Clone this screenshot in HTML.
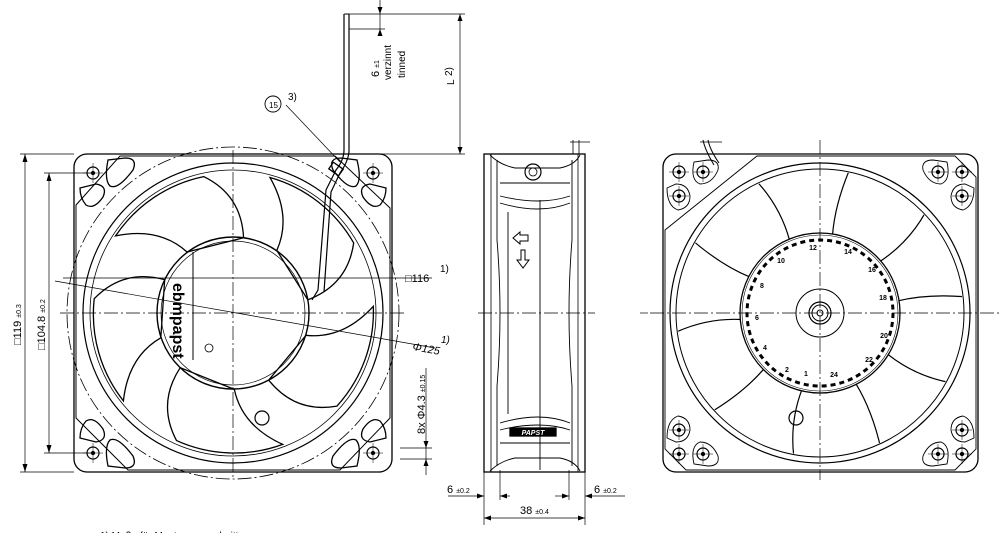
<!DOCTYPE html>
<html><head><meta charset="utf-8"><style>
html,body{margin:0;padding:0;background:#fff;}
svg{display:block;font-family:"Liberation Sans Narrow","Liberation Sans",sans-serif;}
</style></head><body>
<svg width="1000" height="533" viewBox="0 0 1000 533" xmlns="http://www.w3.org/2000/svg">
<defs>
<path id="bladeL" d="M76,0 Q118,-8 131,-48 A140,140 0 0 0 60,-127 Q75,-85 54,-54 Z"/>
<path id="bladeR" d="M78,-8 Q110,-14 150,-8 L150,-70 L120,-112 Q100,-70 62,-48 Z"/>
<clipPath id="ringR"><circle cx="820" cy="313" r="143"/></clipPath>
<g id="cornerL">
 <circle r="6" fill="none" stroke="#000" stroke-width="1.2"/><circle r="1.5" fill="#000"/>
 <line x1="-10" y1="0" x2="10" y2="0" stroke="#000" stroke-width="0.5"/><line x1="0" y1="-10" x2="0" y2="10" stroke="#000" stroke-width="0.5"/>
</g>
</defs>
<g fill="none" stroke="#000" stroke-width="1.3">
<!-- ===== LEFT VIEW ===== -->
<rect x="74" y="154" width="318" height="318" rx="13"/>
<path d="M120,156 L335,156 L390,208 L390,418 L340,470 L128,470 L76,418 L76,205 Z" stroke-width="1"/>
<circle cx="233" cy="313" r="150" stroke-width="1.2"/>
<circle cx="233" cy="313" r="143" stroke-width="0.8"/>
<circle cx="233" cy="313" r="166" stroke-width="0.8" stroke-dasharray="14 3 2 3"/>
<circle cx="233" cy="313" r="76" stroke-width="1.4"/>
<circle cx="233" cy="313" r="72" stroke-width="0.7"/>
<g transform="translate(233,313)" stroke-width="1.3">
 <use href="#bladeL" transform="rotate(-10)"/>
 <use href="#bladeL" transform="rotate(62)"/>
 <use href="#bladeL" transform="rotate(134)"/>
 <use href="#bladeL" transform="rotate(206)"/>
 <use href="#bladeL" transform="rotate(278)"/>
</g>
<line x1="193" y1="252" x2="193" y2="360" stroke-width="1"/>
<circle cx="209" cy="348" r="4" stroke-width="0.8"/>
<circle cx="262" cy="418" r="7" stroke-width="1.2"/>
<use href="#cornerL" x="93" y="173"/><use href="#cornerL" x="373" y="173"/>
<use href="#cornerL" x="93" y="453"/><use href="#cornerL" x="373" y="453"/>
<path d="M108,160 Q104,180 110,186 Q118,190 133,170 Q138,158 125,158 Z"/>
<path d="M80,188 Q80,198 86,205 Q94,210 103,197 Q108,186 96,184 Z"/>
<path d="M357,160 Q362,180 356,186 Q348,190 333,170 Q328,158 341,158 Z"/>
<path d="M386,188 Q386,198 380,205 Q372,210 363,197 Q358,186 370,184 Z"/>
<path d="M108,466 Q104,446 110,440 Q118,436 133,456 Q138,468 125,468 Z"/>
<path d="M80,438 Q80,428 86,421 Q94,416 103,429 Q108,440 96,442 Z"/>
<path d="M357,466 Q362,446 356,440 Q348,436 333,456 Q328,468 341,468 Z"/>
<path d="M386,438 Q386,428 380,421 Q372,416 363,429 Q358,440 370,442 Z"/>
<path d="M344,140 L344,150 Q344,160 336,170 L326,190 L318,290 L312,300" stroke-width="1.2"/>
<path d="M349,140 L349,152 Q348,162 340,173 L331,192 L324,292" stroke-width="1.2"/>
<rect x="330" y="165" width="12" height="8" transform="rotate(35 336 169)"/>
<g stroke-width="0.7" stroke-dasharray="14 3 2 3">
<line x1="233" y1="150" x2="233" y2="478"/><line x1="60" y1="313" x2="405" y2="313"/>
</g>
<g stroke-width="0.7">
<line x1="20" y1="154" x2="74" y2="154"/><line x1="20" y1="472" x2="74" y2="472"/>
<line x1="25" y1="154" x2="25" y2="472"/>
<line x1="44" y1="173" x2="93" y2="173"/><line x1="44" y1="453" x2="93" y2="453"/>
<line x1="49" y1="173" x2="49" y2="453"/>
<line x1="63" y1="278" x2="432" y2="278"/>
<line x1="55" y1="281" x2="435" y2="348"/>
<line x1="400" y1="448" x2="432" y2="448"/><line x1="400" y1="459" x2="432" y2="459"/>
<line x1="426" y1="368" x2="426" y2="475"/>
<line x1="286" y1="105" x2="340" y2="162"/>
</g>
<g fill="#000" stroke="none">
<path d="M25,154 l-2.5,8 h5z"/><path d="M25,472 l-2.5,-8 h5z"/>
<path d="M49,173 l-2.5,8 h5z"/><path d="M49,453 l-2.5,-8 h5z"/>
<path d="M426,448 l-2.5,-7 h5z"/><path d="M426,459 l-2.5,7 h5z"/>
</g>
<!-- ===== TOP WIRE ===== -->
<path d="M344,14 L344,140 M349,14 L349,140" stroke-width="1.2"/>
<path d="M345,14 L349,14" stroke-width="1"/>
<g stroke-width="0.7">
<line x1="344" y1="14" x2="465" y2="14"/><line x1="349" y1="29" x2="385" y2="29"/>
<line x1="380" y1="0" x2="380" y2="35"/>
<line x1="460" y1="14" x2="460" y2="154"/>
<line x1="380" y1="154" x2="465" y2="154"/>
</g>
<g fill="#000" stroke="none">
<path d="M380,14 l-2.5,-7 h5z"/><path d="M380,29 l-2.5,7 h5z"/>
<path d="M460,14 l-2.5,7 h5z"/><path d="M460,154 l-2.5,-7 h5z"/>
</g>
<circle cx="273" cy="104" r="8" stroke-width="0.9"/>
<!-- ===== SIDE VIEW ===== -->
<rect x="484" y="154" width="101" height="318" stroke-width="1.3"/>
<line x1="491" y1="154" x2="491" y2="472" stroke-width="0.8"/>
<line x1="578" y1="154" x2="578" y2="472" stroke-width="0.8"/>
<path d="M497,160 L497,240 Q503,313 497,386 L497,466" stroke-width="0.9"/>
<path d="M572,160 L572,240 Q566,313 572,386 L572,466" stroke-width="0.9"/>
<line x1="508" y1="212" x2="508" y2="414" stroke-width="0.9"/>
<line x1="540" y1="200" x2="540" y2="470" stroke-width="0.9"/>
<path d="M490,155 Q500,165 515,168 L560,168 Q575,165 580,155" stroke-width="0.9"/>
<path d="M490,471 Q500,461 515,458 L560,458 Q575,461 580,471" stroke-width="0.9"/>
<path d="M500,183 L570,183 M500,203 Q540,215 570,203 M500,196 Q540,206 570,196" stroke-width="0.9"/>
<path d="M500,443 L570,443 M500,423 Q540,411 570,423 M500,430 Q540,420 570,430" stroke-width="0.9"/>
<circle cx="533" cy="172" r="8" stroke-width="1.2"/><circle cx="533" cy="172" r="4" stroke-width="0.8"/>
<path d="M573,140 L573,154 M579,140 L579,154 M570,142 L590,142" stroke-width="0.8"/>
<path d="M513,238 l7,-6 v3 h8 v6 h-8 v3 z" stroke-width="1"/>
<path d="M521,250 v10 h-4 l6,8 l6,-8 h-4 v-10 z" stroke-width="1"/>
<rect x="510" y="428" width="46" height="8" fill="#000"/>
<text x="533" y="435" font-size="7" fill="#fff" stroke="none" text-anchor="middle" font-weight="bold" font-style="italic">PAPST</text>
<line x1="478" y1="313" x2="595" y2="313" stroke-width="0.7" stroke-dasharray="14 3 2 3"/>
<line x1="640" y1="313" x2="648" y2="313" stroke-width="0.7"/>
<g stroke-width="0.7">
<line x1="484" y1="472" x2="484" y2="525"/><line x1="585" y1="472" x2="585" y2="525"/>
<line x1="500" y1="470" x2="500" y2="500"/><line x1="569" y1="470" x2="569" y2="500"/>
<line x1="448" y1="496" x2="484" y2="496"/><line x1="500" y1="496" x2="510" y2="496"/>
<line x1="555" y1="496" x2="569" y2="496"/><line x1="585" y1="496" x2="625" y2="496"/>
<line x1="484" y1="518" x2="585" y2="518"/>
</g>
<g fill="#000" stroke="none">
<path d="M484,496 l-7,-2.5 v5z"/><path d="M500,496 l7,-2.5 v5z"/>
<path d="M569,496 l-7,-2.5 v5z"/><path d="M585,496 l7,-2.5 v5z"/>
<path d="M484,518 l7,-2.5 v5z"/><path d="M585,518 l-7,-2.5 v5z"/>
</g>
<!-- ===== RIGHT VIEW ===== -->
<rect x="663" y="154" width="315" height="318" rx="13"/>
<path d="M757,156 L955,156 L976,177 L976,449 L955,470 L686,470 L665,449 L665,230 Z" stroke-width="0.9"/>
<circle cx="820" cy="313" r="150" stroke-width="1.2"/>
<circle cx="820" cy="313" r="144" stroke-width="1"/>
<g clip-path="url(#ringR)">
<g transform="translate(820,313)" stroke-width="1.2">
 <use href="#bladeR" transform="rotate(-75)"/>
 <use href="#bladeR" transform="rotate(-3)"/>
 <use href="#bladeR" transform="rotate(69)"/>
 <use href="#bladeR" transform="rotate(141)"/>
 <use href="#bladeR" transform="rotate(213)"/>
</g>
</g>
<circle cx="820" cy="313" r="80" fill="#fff" stroke-width="1.3"/>
<circle cx="820" cy="313" r="78" stroke-width="0.6"/>
<circle cx="820" cy="313" r="73" stroke-width="3" stroke-dasharray="5 4"/>
<circle cx="820" cy="313" r="71" fill="#fff" stroke="none"/>
<circle cx="820" cy="313" r="24" stroke-width="1"/>
<circle cx="820" cy="313" r="11" stroke-width="1.2"/><circle cx="820" cy="313" r="8" stroke-width="1"/><circle cx="820" cy="313" r="3" stroke-width="1"/>
<circle cx="796" cy="418" r="7" stroke-width="1.2"/>
<g fill="#000" stroke="none" font-size="7" font-weight="bold" text-anchor="middle">
<text x="813" y="250">12</text><text x="848" y="254">14</text><text x="872" y="272">16</text>
<text x="883" y="300">18</text><text x="884" y="338">20</text><text x="869" y="362">22</text>
<text x="834" y="377">24</text><text x="806" y="376">1</text><text x="787" y="372">2</text>
<text x="765" y="350">4</text><text x="757" y="320">6</text><text x="762" y="288">8</text><text x="781" y="263">10</text>
</g>
<g>
<use href="#cornerL" x="679" y="172"/><use href="#cornerL" x="703" y="172"/><use href="#cornerL" x="679" y="196"/>
<use href="#cornerL" x="962" y="172"/><use href="#cornerL" x="938" y="172"/><use href="#cornerL" x="962" y="196"/>
<use href="#cornerL" x="679" y="454"/><use href="#cornerL" x="703" y="454"/><use href="#cornerL" x="679" y="430"/>
<use href="#cornerL" x="962" y="454"/><use href="#cornerL" x="938" y="454"/><use href="#cornerL" x="962" y="430"/>
</g>
<path d="M694,162 Q690,180 700,184 Q712,184 718,170 Q720,160 708,160 Z" stroke-width="0.9"/>
<path d="M667,188 Q667,206 678,210 Q690,208 690,196 Q688,184 676,184 Z" stroke-width="0.9"/>
<path d="M947,162 Q951,180 941,184 Q929,184 923,170 Q921,160 933,160 Z" stroke-width="0.9"/>
<path d="M974,188 Q974,206 963,210 Q951,208 951,196 Q953,184 965,184 Z" stroke-width="0.9"/>
<path d="M694,464 Q690,446 700,442 Q712,442 718,456 Q720,466 708,466 Z" stroke-width="0.9"/>
<path d="M667,438 Q667,420 678,416 Q690,418 690,430 Q688,442 676,442 Z" stroke-width="0.9"/>
<path d="M947,464 Q951,446 941,442 Q929,442 923,456 Q921,466 933,466 Z" stroke-width="0.9"/>
<path d="M974,438 Q974,420 963,416 Q951,418 951,430 Q953,442 965,442 Z" stroke-width="0.9"/>
<path d="M703,140 Q705,150 714,165 M708,140 Q710,150 719,163" stroke-width="1"/>
<line x1="700" y1="142" x2="722" y2="142" stroke-width="0.7"/>
<g stroke-width="0.7" stroke-dasharray="14 3 2 3">
<line x1="820" y1="140" x2="820" y2="480"/><line x1="650" y1="313" x2="1000" y2="313"/>
</g>
</g>
<!-- ===== TEXT ===== -->
<g fill="#000" font-size="11">
<text transform="translate(21,345) rotate(-90)">□119 <tspan font-size="7">±0.3</tspan></text>
<text transform="translate(45,350) rotate(-90)">□104.8 <tspan font-size="7">±0.2</tspan></text>
<text x="405" y="282">□116</text><text x="440" y="272" font-size="10">1)</text>
<text x="412" y="350" font-style="italic" transform="rotate(10 412 350)">Φ125</text><text x="441" y="343" font-size="10" font-style="italic">1)</text>
<text transform="translate(425,434) rotate(-90)">8x Φ4.3 <tspan font-size="7">±0.15</tspan></text>
<text x="269" y="108" font-size="8">15</text><text x="288" y="100" font-size="10">3)</text>
<text transform="translate(379,77) rotate(-90)">6 <tspan font-size="7">±1</tspan></text>
<text transform="translate(391,80) rotate(-90)" font-size="10">verzinnt</text>
<text transform="translate(405,78) rotate(-90)" font-size="10">tinned</text>
<text transform="translate(452,76) rotate(-90)" font-size="10">2)</text>
<text transform="translate(454,85) rotate(-90)" font-size="10">L</text>
<text x="447" y="493">6 <tspan font-size="7">±0.2</tspan></text>
<text x="594" y="493">6 <tspan font-size="7">±0.2</tspan></text>
<text x="520" y="514">38 <tspan font-size="7">±0.4</tspan></text>
<text x="100" y="539" font-size="10">1) Maße für Montageausschnitt</text>
</g>
<text transform="translate(173,283) rotate(90)" font-size="16" font-weight="bold" font-family="Liberation Sans,sans-serif">ebmpapst</text>
</svg>
</body></html>
